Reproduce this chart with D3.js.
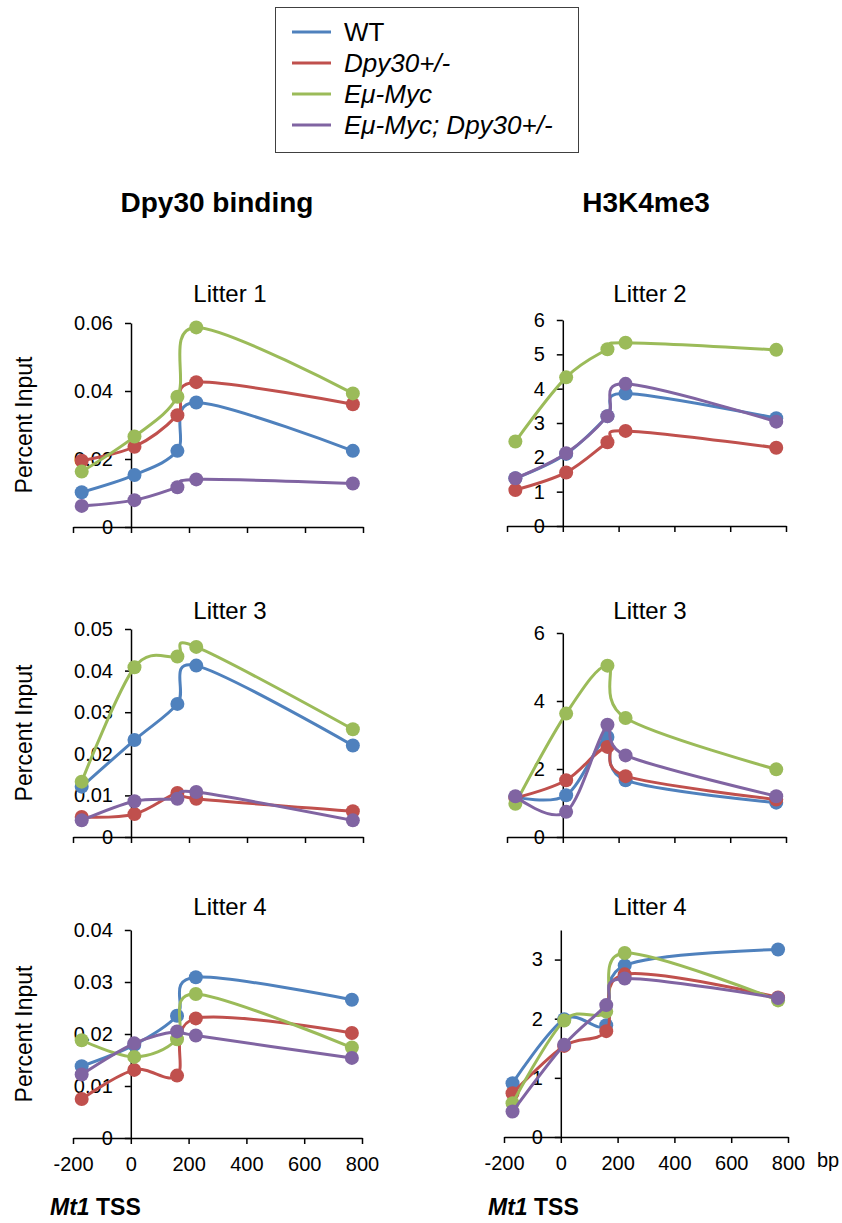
<!DOCTYPE html>
<meta charset="utf-8">
<style>
body { margin: 0; background: #fff; }
text { font-family: "Liberation Sans", Arial, sans-serif; fill: #000; }
</style>
<script src="https://d3js.org/d3.v7.min.js"></script>
<div id="chart"></div>
<script>
// positions relative to Mt1 TSS (bp)
var xPos = [-170, 12, 160, 225, 765];
var xTicks = [-200, 0, 200, 400, 600, 800];
var seriesNames = ["WT", "Dpy30+/-", "E\u03bc-Myc", "E\u03bc-Myc; Dpy30+/-"];
var colors = ["#4F81BD", "#C0504D", "#9BBB59", "#8064A2"];

// series order: WT, Dpy30+/-, Eu-Myc, Eu-Myc;Dpy30+/-
var dpyLitter1 = [
  [0.0102, 0.0153, 0.0224, 0.0366, 0.0224],
  [0.0195, 0.0236, 0.0329, 0.0426, 0.0361],
  [0.0163, 0.0266, 0.0383, 0.0587, 0.0393],
  [0.0062, 0.0079, 0.0117, 0.0140, 0.0128]
];
var dpyLitter3 = [
  [0.0121, 0.0233, 0.0320, 0.0412, 0.0220],
  [0.0048, 0.0055, 0.0106, 0.0092, 0.0062],
  [0.0133, 0.0408, 0.0434, 0.0457, 0.0259],
  [0.0040, 0.0086, 0.0092, 0.0108, 0.0040]
];
var dpyLitter4 = [
  [0.0138, 0.0179, 0.0235, 0.0309, 0.0266],
  [0.0075, 0.0131, 0.0120, 0.0230, 0.0202],
  [0.0188, 0.0156, 0.0190, 0.0277, 0.0174],
  [0.0122, 0.0182, 0.0205, 0.0197, 0.0154]
];
var h3Litter2 = [
  [1.39, 2.10, 3.20, 3.86, 3.14],
  [1.05, 1.56, 2.44, 2.77, 2.28],
  [2.46, 4.33, 5.15, 5.34, 5.13],
  [1.39, 2.12, 3.20, 4.14, 3.04]
];
var h3Litter3 = [
  [1.18, 1.23, 2.94, 1.67, 1.01],
  [1.15, 1.67, 2.65, 1.79, 1.10],
  [0.98, 3.63, 5.04, 3.50, 1.99],
  [1.20, 0.74, 3.30, 2.40, 1.20]
];
var h3Litter4 = [
  [0.91, 1.99, 1.89, 2.90, 3.17],
  [0.74, 1.54, 1.79, 2.75, 2.36],
  [0.57, 1.97, 2.12, 3.11, 2.31],
  [0.43, 1.56, 2.23, 2.68, 2.35]
];

var dpyTicks1 = [0, 0.02, 0.04, 0.06];
var dpyTicks3 = [0, 0.01, 0.02, 0.03, 0.04, 0.05];
var dpyTicks4 = [0, 0.01, 0.02, 0.03, 0.04];
var h3Ticks2 = [0, 1, 2, 3, 4, 5, 6];
var h3Ticks3 = [0, 2, 4, 6];
var h3Ticks4 = [0, 1, 2, 3];

var panels = [
  {data: dpyLitter1, ticks: dpyTicks1, max: 0.06, title: "Litter 1", x0: 73, x1: 363, y0: 323, y1: 527, ty: 302, left: true, bottomRow: false},
  {data: h3Litter2, ticks: h3Ticks2, max: 6, title: "Litter 2", x0: 507, x1: 786, y0: 320, y1: 526, ty: 302, left: false, bottomRow: false},
  {data: dpyLitter3, ticks: dpyTicks3, max: 0.05, title: "Litter 3", x0: 73, x1: 363, y0: 629, y1: 837, ty: 619, left: true, bottomRow: false},
  {data: h3Litter3, ticks: h3Ticks3, max: 6, title: "Litter 3", x0: 507, x1: 786, y0: 633, y1: 837, ty: 619, left: false, bottomRow: false},
  {data: dpyLitter4, ticks: dpyTicks4, max: 0.04, title: "Litter 4", x0: 73, x1: 362, y0: 930, y1: 1138, ty: 915, left: true, bottomRow: true},
  {data: h3Litter4, ticks: h3Ticks4, max: 3.5, title: "Litter 4", x0: 504, x1: 788, y0: 930, y1: 1137, ty: 915, left: false, bottomRow: true}
];

var svg = d3.select("#chart").append("svg")
  .attr("width", 842)
  .attr("height", 1223);

// legend
var legend = svg.append("g");
legend.append("rect")
  .attr("x", 275.5).attr("y", 7.5)
  .attr("width", 303).attr("height", 145)
  .attr("fill", "#fff").attr("stroke", "#404040").attr("stroke-width", 1);
seriesNames.forEach(function(name, i) {
  var ly = 32 + i * 31;
  legend.append("line")
    .attr("x1", 292).attr("x2", 331)
    .attr("y1", ly).attr("y2", ly)
    .attr("stroke", colors[i]).attr("stroke-width", 3);
  legend.append("text")
    .attr("x", 344).attr("y", ly + 9)
    .style("font-size", "26px")
    .style("font-style", i == 0 ? "normal" : "italic")
    .text(name);
});

// column headers
svg.append("text")
  .attr("x", 217).attr("y", 212)
  .attr("text-anchor", "middle")
  .style("font-size", "28px").style("font-weight", "bold")
  .text("Dpy30 binding");
svg.append("text")
  .attr("x", 646).attr("y", 212)
  .attr("text-anchor", "middle")
  .style("font-size", "28px").style("font-weight", "bold")
  .text("H3K4me3");

var line = d3.line().curve(d3.curveCardinal.tension(0));

panels.forEach(function(p) {
  var x = d3.scaleLinear().domain([-200, 800]).range([p.x0, p.x1]);
  var y = d3.scaleLinear().domain([0, p.max]).range([p.y1, p.y0]);
  var g = svg.append("g");

  g.append("text")
    .attr("x", p.left ? 230 : 650).attr("y", p.ty)
    .attr("text-anchor", "middle")
    .style("font-size", "24px")
    .text(p.title);

  if (p.left) {
    g.append("text")
      .attr("transform", "translate(24," + ((p.y0 + p.y1) / 2) + ") rotate(-90)")
      .attr("text-anchor", "middle")
      .attr("dy", "0.35em")
      .style("font-size", "23px")
      .text("Percent Input");
  }

  var xAxis = g.append("g")
    .attr("transform", "translate(0," + y(0) + ")")
    .call(d3.axisBottom(x).tickValues(xTicks).tickSize(6).tickSizeOuter(0).tickPadding(13)
      .tickFormat(p.bottomRow ? function(d) { return d; } : ""));
  var yAxis = g.append("g")
    .attr("transform", "translate(" + x(0) + ",0)")
    .call(d3.axisLeft(y).tickValues(p.ticks).tickSize(6).tickSizeOuter(0).tickPadding(12)
      .tickFormat(function(d) { return String(d); }));

  [xAxis, yAxis].forEach(function(a) {
    a.selectAll("path, line").attr("stroke", "#000").attr("stroke-width", 1.5);
    a.selectAll("text").style("font-size", "20px").style("font-family", '"Liberation Sans", Arial, sans-serif').attr("fill", "#000");
  });

  p.data.forEach(function(vals, i) {
    var pts = vals.map(function(v, j) { return [x(xPos[j]), y(v)]; });
    g.append("path")
      .attr("d", line(pts))
      .attr("fill", "none")
      .attr("stroke", colors[i])
      .attr("stroke-width", 3);
    g.selectAll(null)
      .data(vals)
      .enter().append("circle")
        .attr("cx", function(d, j) { return x(xPos[j]); })
        .attr("cy", function(d) { return y(d); })
        .attr("r", 7)
        .attr("fill", colors[i]);
  });
});

// x-axis captions
[50, 488].forEach(function(tx) {
  var t = svg.append("text")
    .attr("x", tx).attr("y", 1215)
    .style("font-size", "23px").style("font-weight", "bold");
  t.append("tspan").style("font-style", "italic").text("Mt1");
  t.append("tspan").text(" TSS");
});
svg.append("text")
  .attr("x", 817).attr("y", 1167)
  .style("font-size", "20px")
  .text("bp");
</script>
